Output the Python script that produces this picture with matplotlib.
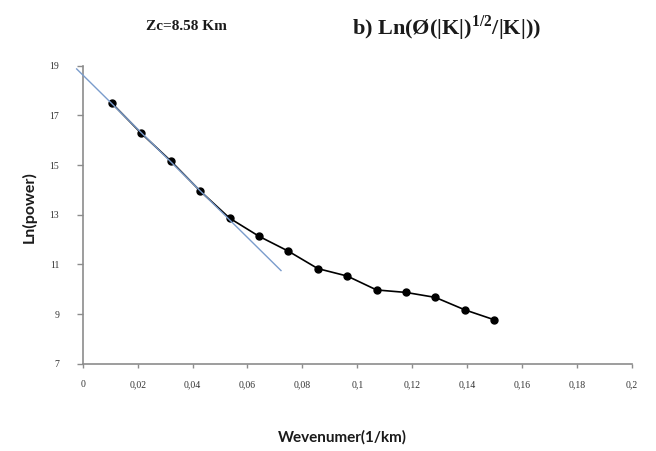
import matplotlib
matplotlib.use("Agg")
import matplotlib.pyplot as plt

plt.rcParams["mathtext.fontset"] = "custom"
plt.rcParams["mathtext.bf"] = "Liberation Serif:bold"
plt.rcParams["mathtext.rm"] = "Liberation Serif"

# Data
wavenumber = [0.0107, 0.0214, 0.0321, 0.0428, 0.0535, 0.0642, 0.0749,
              0.0856, 0.0963, 0.1070, 0.1177, 0.1284, 0.1391, 0.1498]
ln_power = [17.48, 16.27, 15.16, 13.95, 12.86, 12.13, 11.53,
            10.83, 10.53, 9.97, 9.87, 9.67, 9.17, 8.77]
fit_x = [-0.0022, 0.0722]
fit_y = [18.87, 10.75]

x_ticks = [0, 0.02, 0.04, 0.06, 0.08, 0.1, 0.12, 0.14, 0.16, 0.18, 0.2]
x_tick_labels = ["0", "0,02", "0,04", "0,06", "0,08", "0,1", "0,12",
                 "0,14", "0,16", "0,18", "0,2"]
y_ticks = [7, 9, 11, 13, 15, 17, 19]
y_tick_labels = ["7", "9", "11", "13", "15", "17", "19"]

fig = plt.figure(figsize=(6.56, 4.51), dpi=100)
ax = fig.add_axes([82.7 / 656, 1 - 363.7 / 451, (632 - 82.7) / 656, (363.7 - 65.7) / 451])

ax.plot(wavenumber, ln_power, color="black", lw=1.2, marker="o",
        markersize=5, markerfacecolor="black", markeredgecolor="black", zorder=3)
ax.plot(fit_x, fit_y, color="#7a9ccc", lw=1.0, clip_on=False, zorder=4)

ax.set_xlim(0, 0.2)
ax.set_ylim(7, 19)
ax.set_xticks(x_ticks)
ax.set_xticklabels(x_tick_labels)
ax.set_yticks(y_ticks)
ax.set_yticklabels(y_tick_labels)

for s in ["top", "right"]:
    ax.spines[s].set_visible(False)
for s in ["left", "bottom"]:
    ax.spines[s].set_color("#8c8c8c")
    ax.spines[s].set_linewidth(1.2)

ax.tick_params(axis="x", direction="out", length=3, width=1, color="#8c8c8c",
               pad=9, labelsize=7, labelcolor="#333333")
ax.tick_params(axis="y", direction="out", length=4, width=1, color="#8c8c8c",
               pad=13, labelsize=7, labelcolor="#333333")
for lab in ax.get_xticklabels() + ax.get_yticklabels():
    lab.set_family("Liberation Serif")

fig.text(29 / 656, 1 - 207 / 451, "Ln(power)", rotation=90, ha="center",
         va="center", family="Lato", weight="bold", fontsize=11.5, color="#1a1a1a")
fig.text(342 / 656, 1 - 437 / 451, "Wevenumer(1/km)", ha="center", va="center",
         family="Lato", weight="bold", fontsize=11, color="#1a1a1a")

fig.text(186 / 656, 1 - 26 / 451, "Zc=8.58 Km", ha="center", va="center",
         family="Liberation Serif", weight="bold", fontsize=11, color="#1a1a1a")
fig.text(447 / 656, 1 - 28 / 451, r"b) Ln(Ø(|K|)$^{\mathbf{1/2}}$/|K|))", ha="center",
         va="center", family="Liberation Serif", weight="bold", fontsize=16,
         color="#1a1a1a")

fig.savefig("out.png", dpi=100)
